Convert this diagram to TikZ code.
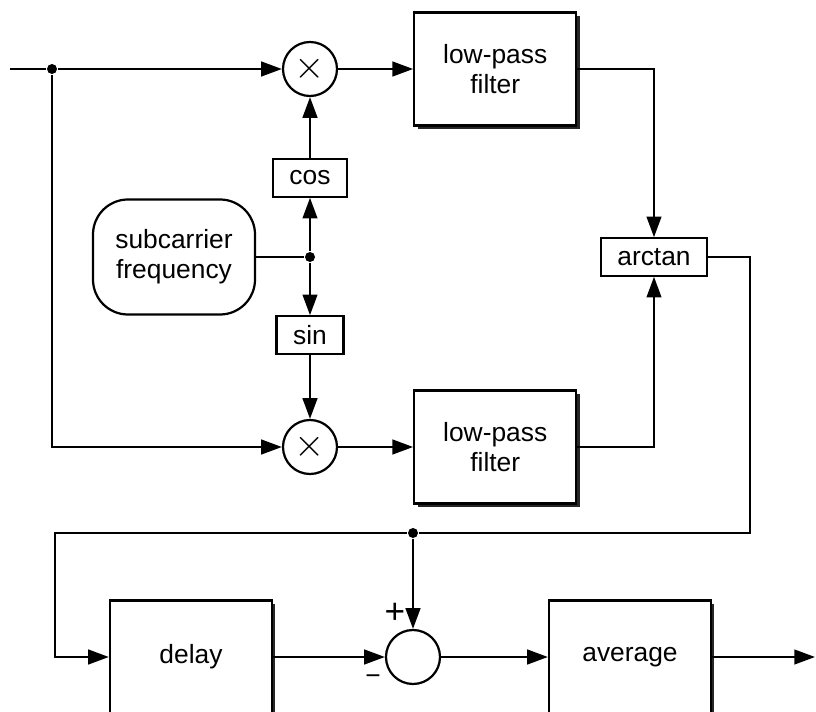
\documentclass[tikz,border=0pt]{standalone}
\usepackage{fontspec}
\setmainfont{Liberation Sans}
\usepackage{tikz}
\usetikzlibrary{positioning, arrows.meta, shadows}

\begin{document}
\begin{tikzpicture}[x=0.03cm, y=-0.03cm, line width=1.9pt,
    >={Triangle[length=0.62cm, width=0.44cm]},
    every node/.style={font=\fontsize{22.5}{25.6}\selectfont},
    block/.style={draw, fill=white, align=center, minimum width=4.86cm, minimum height=3.39cm,
        drop shadow={shadow xshift=0.1cm, shadow yshift=-0.1cm, opacity=1, fill=black!85}},
    fun/.style={draw, fill=white, inner xsep=0.5cm, inner ysep=0pt, minimum height=1.12cm},
    mixer/.style={draw, circle, minimum size=1.62cm, inner sep=0pt},
    dot/.style={circle, fill, inner sep=0pt, minimum size=0.3cm}]
    \useasboundingbox (0,0) rectangle (816,712);

    \coordinate (in) at (10,69);
    \node[dot] (tapIn) at (52,69) {};
    \node[mixer] (mulA) at (310,69) {\scalebox{1.6}{$\times$}};
    \node[block, right=2.25cm of mulA] (lpfA) {low-pass\\filter};
    \node[mixer] (mulB) at (310,447) {\scalebox{1.6}{$\times$}};
    \node[block, right=2.25cm of mulB] (lpfB) {low-pass\\filter};

    \node[fun] (cosb) at (310,178) {cos};
    \node[fun] (sinb) at (310,335) {sin};
    \node[dot] (split) at (310,257) {};
    \node[draw, rounded corners=1.05cm, align=center, minimum width=4.86cm,
        minimum height=3.45cm] (sub) at (174,257) {subcarrier\\frequency};
    \node[fun] (atan) at (654,257) {arctan};

    \coordinate (turnA) at (750,533);
    \coordinate (turnB) at (55,533);
    \node[dot] (tapPh) at (413,533) {};
    \node[mixer] (sum) at (413,657) {};
    \node (plus) at (395,613) {\fontsize{30}{30}\selectfont +};
    \node (minus) at (373,680) {−};
    \node[block] (delay) at (191,657) {delay};
    \node[block] (avg) at (630,657) {average};
    \coordinate (out) at (815,657);

    \draw (in) -- (tapIn);
    \draw[->] (tapIn) -- (mulA);
    \draw[->] (tapIn) |- (mulB);
    \draw[->] (mulA) -- (lpfA);
    \draw[->] (mulB) -- (lpfB);
    \draw[->] (lpfA) -| (atan);
    \draw[->] (lpfB) -| (atan);

    \draw (sub) -- (split);
    \draw[->] (split) -- (cosb);
    \draw[->] (split) -- (sinb);
    \draw[->] (cosb) -- (mulA);
    \draw[->] (sinb) -- (mulB);

    \draw (atan) -| (turnA) -- (tapPh);
    \draw[->] (tapPh) -- (turnB) |- (delay);
    \draw[->] (tapPh) -- (sum);
    \draw[->] (delay) -- (sum);
    \draw[->] (sum) -- (avg);
    \draw[->] (avg) -- (out);
\end{tikzpicture}
\end{document}
